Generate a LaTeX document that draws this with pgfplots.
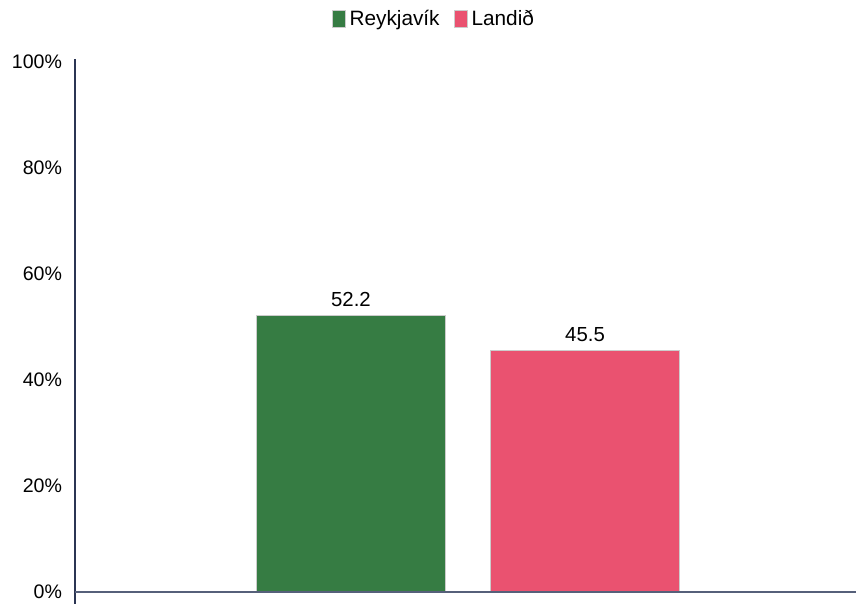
\documentclass[border=0pt]{standalone}
\usepackage{pgfplots}
\pgfplotsset{compat=1.18}
\usepackage{fontspec}
\setmainfont{Liberation Sans}
\definecolor{rgreen}{HTML}{367C43}
\definecolor{lpink}{HTML}{EA5270}
\definecolor{axnavy}{HTML}{2B3553}
\definecolor{axgray}{HTML}{56607A}
\begin{document}
\fontsize{9.8}{12}\selectfont
\begin{tikzpicture}
\begin{axis}[
  scale only axis,
  width=391pt, height=273pt,
  xmin=75, xmax=857,
  ymin=-2.27, ymax=100.6,
  axis y line=left,
  axis x line=none,
  y axis line style={draw=axnavy, line width=0.7pt, -},
  ytick={0,20,40,60,80,100},
  yticklabel={\pgfmathprintnumber{\tick}\%},
  yticklabel style={font=\fontsize{9.8}{12}\selectfont, xshift=-3pt},
  major tick length=0pt,
  /pgf/number format/assume math mode=true,
  xtick=\empty,
  ybar, bar width=94.5pt, bar shift=0pt,
  clip=false,
  nodes near coords,
  nodes near coords style={font=\fontsize{10.2}{12}\selectfont, text=black, /pgf/number format/fixed, /pgf/number format/precision=1, /pgf/number format/fixed zerofill, yshift=1pt},
  legend style={at={(0.461,1)}, anchor=south, yshift=11pt, draw=none, font=\fontsize{10.4}{12}\selectfont, legend columns=2, /tikz/every even column/.append style={column sep=5pt}},
  legend image code/.code={\fill[#1] (0pt,-4pt) rectangle (6.5pt,4.5pt);},
]
\addplot[fill=rgreen, draw=black!20, line width=0.5pt] coordinates {(351.5,52.2)};
\addlegendentry{Reykjavík}
\addplot[fill=lpink, draw=black!20, line width=0.5pt] coordinates {(586,45.5)};
\addlegendentry{Landið}
\draw[axgray, line width=1.4pt] (axis cs:75,0) -- (axis cs:857,0);
\path (axis cs:0,111.7) (axis cs:857,-2.27);
\end{axis}
\end{tikzpicture}
\end{document}
